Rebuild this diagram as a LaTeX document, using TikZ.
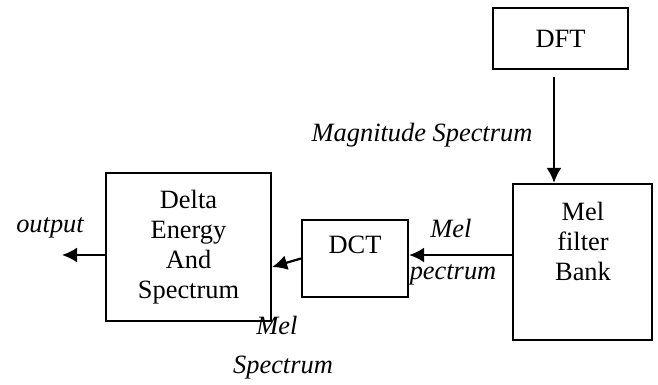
\documentclass[tikz,border=0pt]{standalone}
\usepackage{fontspec}
\setmainfont{Liberation Serif}
\usetikzlibrary{arrows.meta}
\begin{document}
\begin{tikzpicture}[x=0.5pt,y=-0.5pt,
  every node/.style={font=\fontsize{13.2}{15}\selectfont},
  blk/.style={draw,line width=1.1pt,inner sep=0pt},
  sig/.style={font=\fontsize{13.2}{15}\selectfont\itshape,inner sep=0pt},
  arr/.style={line width=1.1pt,-{Latex[length=7.5pt,width=7.5pt]}}]
\useasboundingbox (0,0) rectangle (658,385);
% blocks
\node[blk,minimum width=67.5pt,minimum height=30.5pt] (dft) at (560.5,38.5) {DFT};
\node[blk,minimum width=69.5pt,minimum height=78pt] (mel) at (582.5,262) {};
\node[align=center] (meltxt) at (583,241) {Mel\\filter\\Bank};
\node[blk,minimum width=53pt,minimum height=38.5pt] (dct) at (355,258.5) {};
\node (dcttxt) at (355,245) {DCT};
\node[blk,align=center,minimum width=82.5pt,minimum height=74pt] (delta) at (188.5,247) {Delta\\Energy\\And\\Spectrum};
% connection points
\coordinate (magx) at (554,0);
\coordinate (melout) at (0,255);
\coordinate (deltain) at (0,267);
\coordinate (out) at (62,255);
\draw[arr,shorten <=3.5pt] (dft.south -| magx) -- (mel.north -| magx);
\draw[arr] (mel.west |- melout) -- (dct.east |- melout);
\draw[arr] (dct.west) -- (delta.east |- deltain);
\draw[arr] (delta.west |- out) -- (out);
% signal labels
\node[sig] (lmag) at (422,135) {Magnitude Spectrum};
\node[sig] (lmel1) at (451,228) {Mel};
\node[sig] (lspec1) at (453,275) {pectrum};
\node[sig] (lmel2) at (277,325) {Mel};
\node[sig] (lspec2) at (283,368) {Spectrum};
\node[sig] (lout) at (50,228) {output};
\end{tikzpicture}
\end{document}
